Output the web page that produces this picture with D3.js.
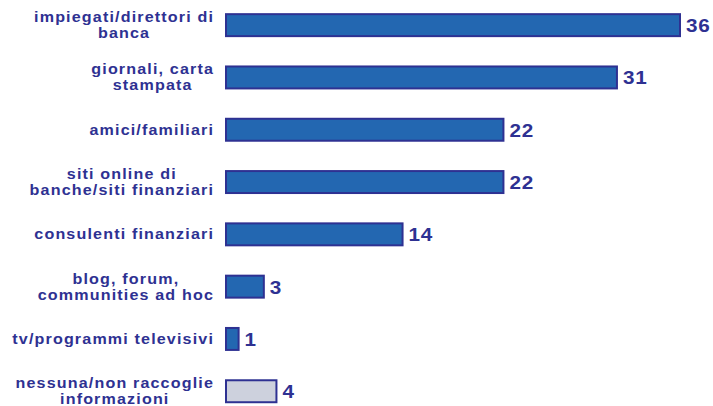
<!DOCTYPE html>
<html>
<head>
<meta charset="utf-8">
<script src="https://cdn.jsdelivr.net/npm/d3@7"></script>
<style>
  body { margin: 0; background: #fff; }
  text { font-family: "Liberation Sans", Arial, sans-serif; font-weight: bold; fill: #2E3192; }
</style>
</head>
<body>
<svg id="chart" width="713" height="406"></svg>
<script>
const categories = [
  ["impiegati/direttori di", "banca"],
  ["giornali, carta", "stampata"],
  ["amici/familiari"],
  ["siti online di", "banche/siti finanziari"],
  ["consulenti finanziari"],
  ["blog, forum,", "communities ad hoc"],
  ["tv/programmi televisivi"],
  ["nessuna/non raccoglie", "informazioni"]
];
const values = [36, 31, 22, 22, 14, 3, 1, 4];
const highlight = [false, false, false, false, false, false, false, true];

const svg = d3.select("#chart");
const x0 = 226, labelRight = 213;
const sx = 1.15; // wide type in the original

const x = d3.scaleLinear().domain([0, 36]).range([x0, 680]);
const y = d3.scaleBand().domain(d3.range(values.length)).range([-1, 417.4]).paddingInner(0.58).paddingOuter(0.29);

// bars
svg.selectAll("rect.bar")
  .data(values)
  .join("rect")
  .attr("class", "bar")
  .attr("x", x0)
  .attr("y", (d, i) => y(i))
  .attr("width", d => x(d) - x0)
  .attr("height", y.bandwidth())
  .attr("fill", (d, i) => highlight[i] ? "#CDD1DD" : "#2367B1")
  .attr("stroke", "#2E3192")
  .attr("stroke-width", 2);

// value labels
svg.selectAll("text.val")
  .data(values)
  .join("text")
  .attr("class", "val")
  .attr("transform", (d, i) => `translate(${x(d) + 6},${y(i) + y.bandwidth() / 2 + 7}) scale(${sx},1)`)
  .style("font-size", "18px")
  .style("letter-spacing", "0.6px")
  .text(d => d);

// category labels, multi-line blocks centred and right-aligned as a block
categories.forEach((lines, i) => {
  const cy = y(i) + y.bandwidth() / 2;
  const lh = 16;
  const texts = lines.map(s => svg.append("text")
    .style("font-size", "14px")
    .style("letter-spacing", "1px")
    .attr("text-anchor", "middle")
    .text(s));
  const w = (d3.max(texts, t => t.node().getComputedTextLength()) - 1) * sx;
  texts.forEach((t, j) => {
    const ty = cy + 5 + (j - (lines.length - 1) / 2) * lh;
    t.attr("transform", `translate(${labelRight - w / 2 + 0.5},${ty}) scale(${sx},1)`);
  });
});
</script>
</body>
</html>
